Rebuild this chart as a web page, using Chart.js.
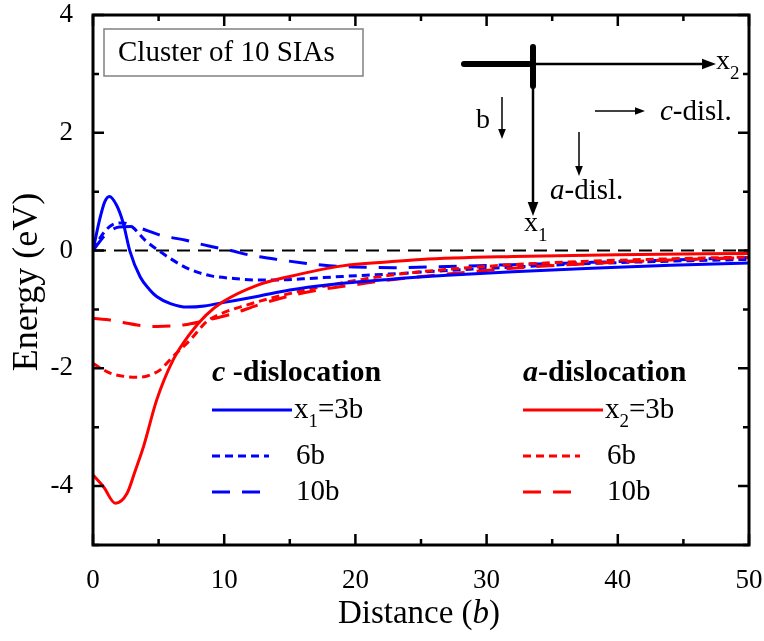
<!DOCTYPE html>
<html>
<head>
<meta charset="utf-8">
<script src="https://cdn.jsdelivr.net/npm/chart.js@4.4.1/dist/chart.umd.min.js"></script>
<style>
  html, body { margin: 0; padding: 0; background: #fff; }
  #wrap { position: relative; width: 764px; height: 641px; }
</style>
</head>
<body>
<div id="wrap"><canvas id="myChart"></canvas></div>
<script>
const SERIF = '"Liberation Serif", "Times New Roman", serif';
const BLUE = '#0000ff';
const RED = '#ff0000';

// c-dislocation, x1 = 3b
const c3Dist = [0, 0.5, 0.9, 1.25, 1.8, 2.3, 2.8, 3.6, 4.3, 4.85, 5.9, 7.2, 8.5, 10, 12.5, 15, 18, 22.5, 27, 32, 38, 44, 50];
const c3Energy = [0, 0.52, 0.83, 0.92, 0.77, 0.47, 0, -0.45, -0.66, -0.78, -0.9, -0.96, -0.94, -0.88, -0.78, -0.67, -0.58, -0.49, -0.42, -0.36, -0.3, -0.25, -0.21];
// c-dislocation, 6b
const c6Dist = [0, 0.5, 1, 1.5, 2.3, 3, 4, 5, 6, 7, 8, 9, 10.5, 12.5, 14, 16, 19, 22.5, 27, 32, 38, 44, 50];
const c6Energy = [0, 0.2, 0.35, 0.44, 0.47, 0.4, 0.17, 0.0, -0.15, -0.28, -0.37, -0.43, -0.47, -0.5, -0.5, -0.48, -0.44, -0.4, -0.34, -0.28, -0.22, -0.18, -0.15];
// c-dislocation, 10b
const c10Dist = [0, 0.5, 1, 2, 3, 4, 5, 6, 7, 8, 9, 10.5, 12, 14, 16, 18, 20, 23, 27, 32, 38, 44, 50];
const c10Energy = [0, 0.15, 0.28, 0.4, 0.41, 0.35, 0.27, 0.22, 0.18, 0.12, 0.07, 0.0, -0.08, -0.15, -0.21, -0.26, -0.28, -0.29, -0.27, -0.24, -0.2, -0.16, -0.12];

// a-dislocation, x2 = 3b
const a3Dist = [0, 0.8, 1.7, 2.6, 3.2, 3.85, 4.85, 6.1, 7.4, 8.6, 9.9, 12.5, 15, 19, 22.6, 25, 32, 40, 50];
const a3Energy = [-3.81, -4.01, -4.29, -4.12, -3.75, -3.33, -2.54, -1.86, -1.41, -1.1, -0.87, -0.59, -0.44, -0.26, -0.19, -0.15, -0.1, -0.07, -0.05];
// a-dislocation, 6b
const a6Dist = [0, 1.3, 2.5, 3.6, 4.5, 5.1, 6.1, 7.4, 8.7, 10, 11.2, 13.7, 17.5, 22.6, 27, 32, 38, 44, 50];
const a6Energy = [-1.92, -2.08, -2.14, -2.15, -2.1, -2.03, -1.8, -1.52, -1.2, -1.05, -0.96, -0.8, -0.61, -0.42, -0.32, -0.24, -0.18, -0.14, -0.11];
// a-dislocation, 10b
const a10Dist = [0, 1, 2.3, 3.5, 4.85, 6.1, 7, 8.15, 9.5, 10.7, 12.5, 15, 17.5, 20, 22.6, 27, 32, 38, 44, 50];
const a10Energy = [-1.15, -1.17, -1.22, -1.27, -1.29, -1.28, -1.26, -1.21, -1.14, -1.07, -0.93, -0.77, -0.66, -0.58, -0.5, -0.4, -0.3, -0.22, -0.16, -0.12];

const zeroDist = [0, 50];
const zeroEnergy = [0, 0];

const xTicks = [0, 10, 20, 30, 40, 50];
const xMinor = [5, 15, 25, 35, 45];
const yTicks = [-4, -2, 0, 2, 4];
const yMinor = [-5, -3, -1, 1, 3];

const toPoints = (xs, ys) => xs.map((x, i) => ({ x: x, y: ys[i] }));

const SHORT = [8, 5];
const LONG = [18, 12];

const line = (label, xs, ys, color, dash) => ({
    label: label,
    data: toPoints(xs, ys),
    borderColor: color,
    borderWidth: 3,
    borderDash: dash,
    pointRadius: 0,
    showLine: true,
    fill: false,
    cubicInterpolationMode: 'monotone'
});

const datasets = [
    line('a 3b', a3Dist, a3Energy, RED, []),
    line('c 3b', c3Dist, c3Energy, BLUE, []),
    line('a 6b', a6Dist, a6Energy, RED, SHORT),
    line('a 10b', a10Dist, a10Energy, RED, LONG),
    line('c 6b', c6Dist, c6Energy, BLUE, SHORT),
    line('c 10b', c10Dist, c10Energy, BLUE, LONG),
    Object.assign(line('zero', zeroDist, zeroEnergy, '#000', [13, 8]), { borderWidth: 2 })
];

// draws pieces of text with different fonts one after the other
const drawRuns = (ctx, x, y, runs) => {
    ctx.textBaseline = 'middle';
    ctx.textAlign = 'left';
    runs.forEach(r => {
        ctx.font = r.font;
        ctx.fillText(r.t, x, y + (r.dy || 0));
        x += ctx.measureText(r.t).width + (r.gap || 0);
    });
};

const arrow = (ctx, x1, y1, x2, y2, w, head) => {
    const a = Math.atan2(y2 - y1, x2 - x1);
    const c = Math.cos(a), s = Math.sin(a);
    ctx.lineWidth = w;
    ctx.beginPath();
    ctx.moveTo(x1, y1);
    ctx.lineTo(x2 - c * head * 0.8, y2 - s * head * 0.8);
    ctx.stroke();
    ctx.beginPath();
    ctx.moveTo(x2, y2);
    ctx.lineTo(x2 - head * c + head * 0.38 * s, y2 - head * s - head * 0.38 * c);
    ctx.lineTo(x2 - head * c - head * 0.38 * s, y2 - head * s + head * 0.38 * c);
    ctx.closePath();
    ctx.fill();
};

const F = (size, style) => `${style || ''} ${size}px ${SERIF}`;

const decorPlugin = {
    id: 'decor',
    afterDraw(chart) {
        const ctx = chart.ctx;
        const { left, right, top, bottom } = chart.chartArea;
        const xs = chart.scales.x, ys = chart.scales.y;
        ctx.save();
        ctx.strokeStyle = '#000';
        ctx.fillStyle = '#000';
        ctx.setLineDash([]);

        // frame
        ctx.lineWidth = 3;
        ctx.strokeRect(left, top, right - left, bottom - top);

        // inward ticks on all four sides
        ctx.lineWidth = 2.5;
        const tickX = (v, len) => {
            const p = xs.getPixelForValue(v);
            ctx.beginPath();
            ctx.moveTo(p, bottom); ctx.lineTo(p, bottom - len);
            ctx.moveTo(p, top); ctx.lineTo(p, top + len);
            ctx.stroke();
        };
        const tickY = (v, len) => {
            const p = ys.getPixelForValue(v);
            ctx.beginPath();
            ctx.moveTo(left, p); ctx.lineTo(left + len, p);
            ctx.moveTo(right, p); ctx.lineTo(right - len, p);
            ctx.stroke();
        };
        xTicks.forEach(v => tickX(v, 11));
        xMinor.forEach(v => tickX(v, 6));
        yTicks.forEach(v => tickY(v, 11));
        yMinor.forEach(v => tickY(v, 6));

        // axis titles
        ctx.font = F(33);
        const t1 = 'Distance (', t2 = 'b', t3 = ')';
        const w1 = ctx.measureText(t1).width, w3 = ctx.measureText(t3).width;
        ctx.font = F(33, 'italic');
        const w2 = ctx.measureText(t2).width;
        const cx = (left + right) / 2 - 2;
        drawRuns(ctx, cx - (w1 + w2 + w3) / 2, 614, [
            { t: t1, font: F(33) }, { t: t2, font: F(33, 'italic') }, { t: t3, font: F(33) }
        ]);
        ctx.save();
        ctx.translate(28, 282);
        ctx.rotate(-Math.PI / 2);
        ctx.textAlign = 'center';
        ctx.textBaseline = 'middle';
        ctx.font = F(36);
        ctx.fillText('Energy (eV)', 0, 0);
        ctx.restore();

        // label box
        ctx.fillStyle = '#fff';
        ctx.fillRect(104, 29, 259, 47);
        ctx.strokeStyle = '#808080';
        ctx.lineWidth = 1.5;
        ctx.strokeRect(104, 29, 259, 47);
        ctx.fillStyle = '#000';
        ctx.strokeStyle = '#000';
        drawRuns(ctx, 118, 53, [{ t: 'Cluster of 10 SIAs', font: F(29) }]);

        // dislocation sketch
        ctx.lineCap = 'round';
        ctx.lineWidth = 6;
        ctx.beginPath();
        ctx.moveTo(464, 64); ctx.lineTo(533, 64);
        ctx.moveTo(533, 47); ctx.lineTo(533, 86);
        ctx.stroke();
        ctx.lineCap = 'butt';
        arrow(ctx, 533, 64, 716, 64, 2.5, 14);
        arrow(ctx, 533, 84, 533, 216, 2.5, 14);
        drawRuns(ctx, 716, 62, [{ t: 'x', font: F(28) }, { t: '2', font: F(19), dy: 12 }]);
        drawRuns(ctx, 524, 224, [{ t: 'x', font: F(28) }, { t: '1', font: F(19), dy: 12 }]);
        drawRuns(ctx, 476, 121, [{ t: 'b', font: F(28) }]);
        arrow(ctx, 502, 97, 502, 139, 1.5, 10);
        arrow(ctx, 595, 111, 645, 111, 1.5, 10);
        drawRuns(ctx, 660, 112, [{ t: 'c', font: F(29, 'italic') }, { t: '-disl.', font: F(29) }]);
        arrow(ctx, 579, 132, 579, 176, 1.5, 10);
        drawRuns(ctx, 550, 191, [{ t: 'a', font: F(29, 'italic') }, { t: '-disl.', font: F(29) }]);

        // grouped legend
        const sample = (x, y, len, ds) => {
            ctx.strokeStyle = ds.borderColor;
            ctx.lineWidth = ds.borderWidth;
            ctx.setLineDash(ds.borderDash);
            ctx.beginPath();
            ctx.moveTo(x, y); ctx.lineTo(x + len, y);
            ctx.stroke();
            ctx.setLineDash([]);
            ctx.strokeStyle = '#000';
        };
        const group = (x, headRuns, rows) => {
            drawRuns(ctx, x, 373, headRuns);
            rows.forEach(r => {
                sample(x, r.y, r.len, datasets[r.ds]);
                drawRuns(ctx, r.tx, r.y, r.runs);
            });
        };
        group(212, [{ t: 'c', font: F(30, 'bold italic') }, { t: ' -dislocation', font: F(30, 'bold') }], [
            { ds: 1, y: 410, len: 80, tx: 294, runs: [{ t: 'x', font: F(29) }, { t: '1', font: F(19), dy: 12 }, { t: '=3b', font: F(29) }] },
            { ds: 4, y: 456, len: 57, tx: 296, runs: [{ t: '6b', font: F(29) }] },
            { ds: 5, y: 492, len: 52, tx: 296, runs: [{ t: '10b', font: F(29) }] }
        ]);
        group(523, [{ t: 'a', font: F(30, 'bold italic') }, { t: '-dislocation', font: F(30, 'bold') }], [
            { ds: 0, y: 410, len: 80, tx: 605, runs: [{ t: 'x', font: F(29) }, { t: '2', font: F(19), dy: 12 }, { t: '=3b', font: F(29) }] },
            { ds: 2, y: 456, len: 57, tx: 607, runs: [{ t: '6b', font: F(29) }] },
            { ds: 3, y: 492, len: 52, tx: 607, runs: [{ t: '10b', font: F(29) }] }
        ]);
        ctx.restore();
    }
};

const createEnergyChart = () => {
    const ctx = document.getElementById('myChart');
    new Chart(ctx, {
        type: 'scatter',
        data: { datasets: datasets },
        options: {
            responsive: true,
            maintainAspectRatio: false,
            animation: false,
            layout: { padding: { top: 15, right: 15, left: 0, bottom: 0 } },
            plugins: { legend: { display: false }, tooltip: { enabled: false } },
            scales: {
                x: {
                    type: 'linear',
                    min: 0,
                    max: 50,
                    grid: { display: false },
                    border: { display: false },
                    afterBuildTicks: (scale) => { scale.ticks = xTicks.map(v => ({ value: v })); },
                    afterFit: (scale) => {
                        scale.height = 96;
                        scale.paddingLeft = 0;
                        scale.paddingRight = 0;
                    },
                    ticks: { color: '#000', padding: 12, maxRotation: 0, font: { family: SERIF, size: 27 } }
                },
                y: {
                    type: 'linear',
                    min: -5,
                    max: 4,
                    grid: { display: false },
                    border: { display: false },
                    afterBuildTicks: (scale) => { scale.ticks = yTicks.map(v => ({ value: v })); },
                    afterFit: (scale) => {
                        scale.width = 93;
                        scale.paddingTop = 0;
                        scale.paddingBottom = 0;
                    },
                    ticks: { color: '#000', padding: 12, font: { family: SERIF, size: 27 } }
                }
            }
        },
        plugins: [decorPlugin]
    });
};

createEnergyChart();
</script>
</body>
</html>
